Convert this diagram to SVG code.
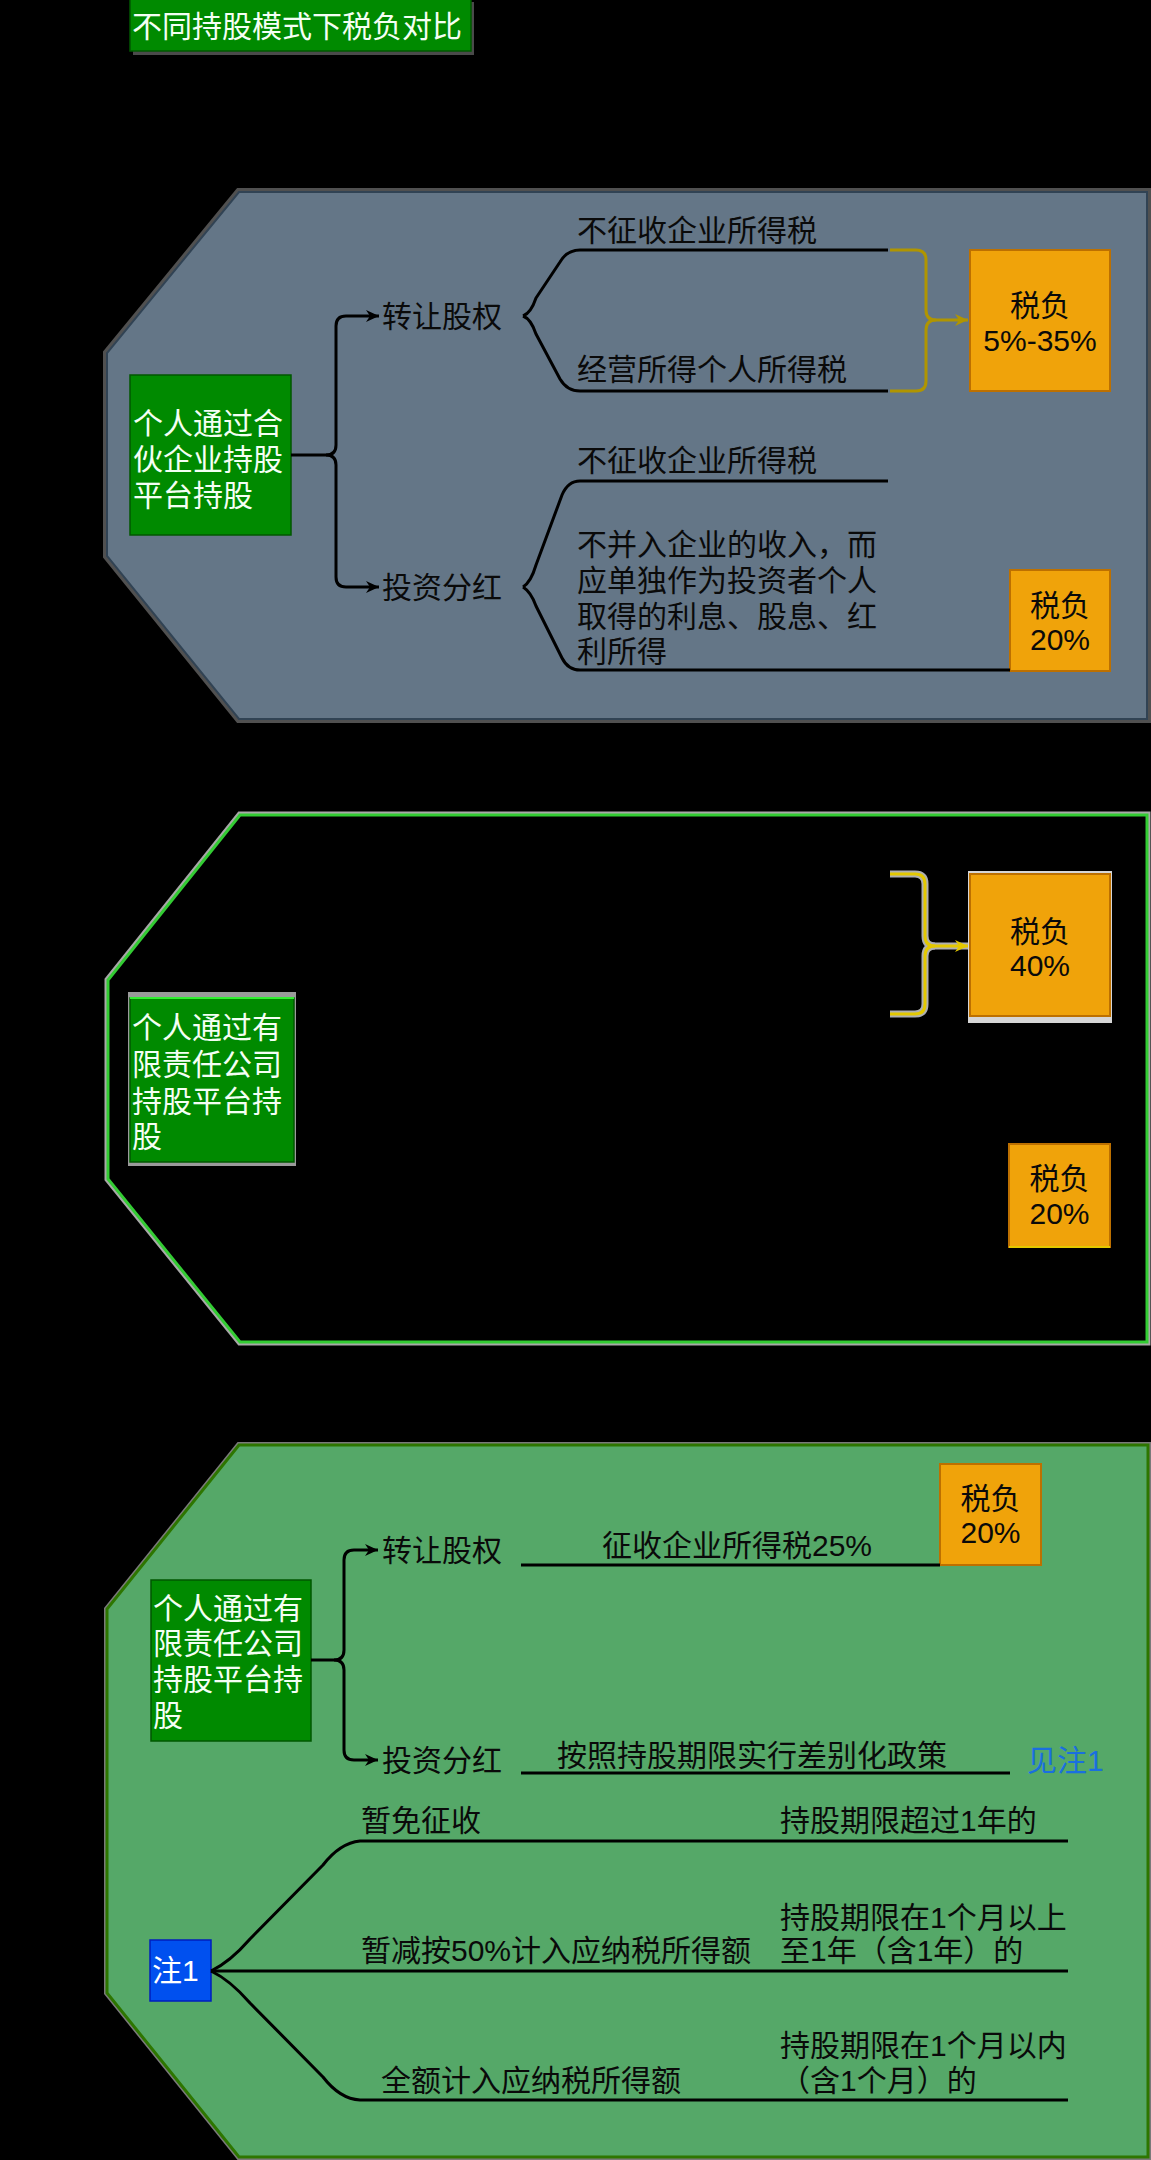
<svg xmlns="http://www.w3.org/2000/svg" width="1151" height="2160" viewBox="0 0 1151 2160">
<defs>
<style>
.t{font-family:"Liberation Sans","Noto Sans CJK SC",sans-serif;font-size:30px;dominant-baseline:central}
.w{fill:#f4fff4}
.k{fill:#0a0a0a}
.m{text-anchor:middle}
.ln{fill:none;stroke:#000;stroke-width:3;stroke-linejoin:round}
.box{fill:#008a00;stroke:#005700;stroke-width:1.5}
.or{fill:#f0a30a;stroke:#bd7000;stroke-width:2}
</style>
<marker id="ak" markerUnits="userSpaceOnUse" markerWidth="14" markerHeight="12" refX="13" refY="6" orient="auto"><path d="M0,0 L13,6 L0,12 L4,6 Z" fill="#000"/></marker>
<marker id="ag" markerUnits="userSpaceOnUse" markerWidth="14" markerHeight="12" refX="13" refY="6" orient="auto"><path d="M0,0 L13,6 L0,12 L4,6 Z" fill="#b09500"/></marker>
<marker id="ay" markerUnits="userSpaceOnUse" markerWidth="14" markerHeight="12" refX="13" refY="6" orient="auto"><path d="M0,0 L13,6 L0,12 L4,6 Z" fill="#e3c800"/></marker>
</defs>
<rect x="0" y="0" width="1151" height="2160" fill="#000"/>

<g id="title">
<rect x="133" y="2" width="341" height="53" fill="#4a4a4a"/>
<rect x="130" y="-2" width="341" height="53" class="box"/>
<text x="132" y="26" class="t w">不同持股模式下税负对比</text>
</g>

<g id="section1">
<polygon points="239,192 1147,192 1147,719 239,719 107,556 107,353" fill="none" stroke="#505050" stroke-width="8"/>
<polygon points="239,192 1147,192 1147,719 239,719 107,556 107,353" fill="#647687" stroke="#314354" stroke-width="2"/>
</g>
<g id="node-s1-root">
<rect x="130" y="375" width="161" height="160" class="box"/>
<text class="t w"><tspan x="133" y="423">个人通过合</tspan><tspan x="133" y="459">伙企业持股</tspan><tspan x="133" y="495">平台持股</tspan></text>
</g>
<g id="node-s1-transfer"><text x="382" y="316" class="t k">转让股权</text></g>
<g id="node-s1-dividend"><text x="382" y="587" class="t k">投资分红</text></g>
<g id="node-s1-t1"><text x="577" y="230" class="t k">不征收企业所得税</text></g>
<g id="node-s1-t2"><text x="577" y="369" class="t k">经营所得个人所得税</text></g>
<g id="node-s1-d1"><text x="577" y="460" class="t k">不征收企业所得税</text></g>
<g id="node-s1-d2">
<text class="t k"><tspan x="577" y="544">不并入企业的收入，而</tspan><tspan x="577" y="580">应单独作为投资者个人</tspan><tspan x="577" y="616">取得的利息、股息、红</tspan><tspan x="577" y="651">利所得</tspan></text>
</g>
<g id="node-s1-tax1">
<rect x="970" y="250" width="140" height="141" class="or"/>
<text class="t k m"><tspan x="1040" y="305">税负</tspan><tspan x="1040" y="340">5%-35%</tspan></text>
</g>
<g id="node-s1-tax2">
<rect x="1010" y="570" width="100" height="101" class="or"/>
<text class="t k m"><tspan x="1060" y="605">税负</tspan><tspan x="1060" y="639">20%</tspan></text>
</g>

<g id="section2">
<polygon points="240,815 1147,815 1147,1342 240,1342 108,1179 108,980" fill="none" stroke="#a8a8a8" stroke-width="7"/>
<polygon points="240,815 1147,815 1147,1342 240,1342 108,1179 108,980" fill="#000" stroke="#33cc33" stroke-width="3"/>
</g>
<g id="node-s2-root">
<rect x="128" y="992" width="168" height="174" fill="#9a9a9a"/>
<rect x="130" y="998" width="164" height="164" class="box"/>
<line x1="130" y1="998" x2="294" y2="998" stroke="#33ee33" stroke-width="2"/>
<text class="t w"><tspan x="132" y="1027">个人通过有</tspan><tspan x="132" y="1064">限责任公司</tspan><tspan x="132" y="1101">持股平台持</tspan><tspan x="132" y="1136">股</tspan></text>
</g>
<g id="node-s2-tax1">
<rect x="968" y="871" width="144" height="152" fill="#d6d6d6"/>
<rect x="970" y="874" width="140" height="142" class="or"/>
<text class="t k m"><tspan x="1040" y="931">税负</tspan><tspan x="1040" y="965">40%</tspan></text>
</g>
<g id="node-s2-tax2">
<rect x="1009" y="1144" width="101" height="103" class="or"/>
<line x1="1009" y1="1247" x2="1110" y2="1247" stroke="#e3c800" stroke-width="2"/>
<text class="t k m"><tspan x="1059.5" y="1178">税负</tspan><tspan x="1059.5" y="1213">20%</tspan></text>
</g>

<g id="section3">
<polygon points="239,1445 1148,1445 1148,2157 239,2157 107,1993 107,1609" fill="none" stroke="#7a7a7a" stroke-width="6"/>
<polygon points="239,1445 1148,1445 1148,2157 239,2157 107,1993 107,1609" fill="#55a868" stroke="#2d7600" stroke-width="3"/>
</g>
<g id="node-s3-root">
<rect x="151" y="1580" width="160" height="161" class="box"/>
<text class="t w"><tspan x="153" y="1608">个人通过有</tspan><tspan x="153" y="1643">限责任公司</tspan><tspan x="153" y="1679">持股平台持</tspan><tspan x="153" y="1715">股</tspan></text>
</g>
<g id="node-s3-transfer"><text x="382" y="1550" class="t k">转让股权</text></g>
<g id="node-s3-dividend"><text x="382" y="1760" class="t k">投资分红</text></g>
<g id="node-s3-t1"><text x="602" y="1545" class="t k">征收企业所得税25%</text></g>
<g id="node-s3-tax">
<rect x="940" y="1464" width="101" height="101" class="or"/>
<text class="t k m"><tspan x="990.5" y="1498">税负</tspan><tspan x="990.5" y="1532">20%</tspan></text>
</g>
<g id="node-s3-d1"><text x="557" y="1755" class="t k">按照持股期限实行差别化政策</text></g>
<g id="node-s3-see"><text x="1027" y="1760" class="t" fill="#1a6fdf">见注1</text></g>
<g id="node-note">
<rect x="150" y="1940" width="61" height="61" fill="#0050ef" stroke="#001dbc" stroke-width="1.5"/>
<text x="152" y="1970" class="t" fill="#fff">注1</text>
</g>
<g id="node-n1">
<text x="361" y="1820" class="t k">暂免征收</text>
<text x="780" y="1820" class="t k">持股期限超过1年的</text>
</g>
<g id="node-n2">
<text x="361" y="1950" class="t k">暂减按50%计入应纳税所得额</text>
<text class="t k"><tspan x="780" y="1917">持股期限在1个月以上</tspan><tspan x="780" y="1950">至1年（含1年）的</tspan></text>
</g>
<g id="node-n3">
<text x="381" y="2080" class="t k">全额计入应纳税所得额</text>
<text class="t k"><tspan x="780" y="2045">持股期限在1个月以内</tspan><tspan x="780" y="2080">（含1个月）的</tspan></text>
</g>

<g id="connectors">
<path class="ln" d="M291,455 H326 Q336,455 336,445 V326 Q336,316 346,316 H379" marker-end="url(#ak)"/>
<path class="ln" d="M326,455 Q336,455 336,465 V577 Q336,587 346,587 H379" marker-end="url(#ak)"/>
<path class="ln" d="M523,316 Q531,313 536,298 L560,262 Q567,250 580,250 H888"/>
<path class="ln" d="M523,316 Q531,319 536,334 L560,379 Q567,391 580,391 H888"/>
<path class="ln" d="M523,587 Q531,582 536,565 L562,495 Q568,481 580,481 H888"/>
<path class="ln" d="M523,587 Q531,592 536,606 L562,658 Q568,670 580,670 H1010"/>
<path d="M890,250 H916 Q926,250 926,260 V310 Q926,320 936,320 H968" fill="none" stroke="#b09500" stroke-width="3" marker-end="url(#ag)"/>
<path d="M890,391 H916 Q926,391 926,381 V330 Q926,320 936,320" fill="none" stroke="#b09500" stroke-width="3"/>
<path d="M890,874 H915 Q925,874 925,884 V936 Q925,946 935,946 H968" fill="none" stroke="#b0b0b0" stroke-width="7"/>
<path d="M890,1014 H915 Q925,1014 925,1004 V956 Q925,946 935,946" fill="none" stroke="#b0b0b0" stroke-width="7"/>
<path d="M890,874 H915 Q925,874 925,884 V936 Q925,946 935,946 H968" fill="none" stroke="#e3c800" stroke-width="3" marker-end="url(#ay)"/>
<path d="M890,1014 H915 Q925,1014 925,1004 V956 Q925,946 935,946" fill="none" stroke="#e3c800" stroke-width="3"/>
<path class="ln" d="M311,1660 H334 Q344,1660 344,1650 V1560 Q344,1550 354,1550 H378" marker-end="url(#ak)"/>
<path class="ln" d="M334,1660 Q344,1660 344,1670 V1750 Q344,1760 354,1760 H378" marker-end="url(#ak)"/>
<path class="ln" d="M521,1565 H940"/>
<path class="ln" d="M521,1773 H1010"/>
<path class="ln" d="M211,1971 Q230,1962 250,1939 L323,1865 Q340,1843 360,1841 H1068"/>
<path class="ln" d="M211,1971 H1068"/>
<path class="ln" d="M211,1971 Q230,1980 250,2003 L323,2077 Q340,2099 360,2100 H1068"/>
</g>
</svg>
